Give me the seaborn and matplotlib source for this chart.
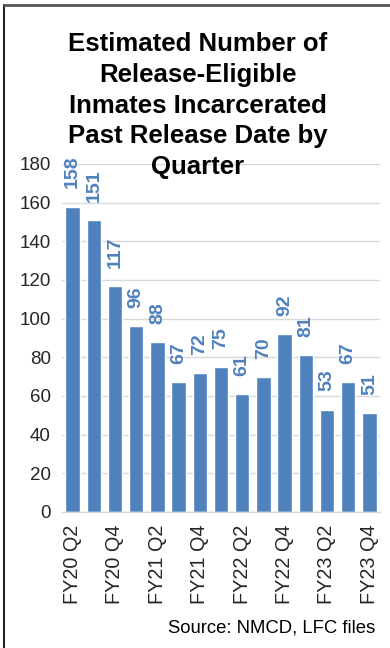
import matplotlib
matplotlib.use("Agg")
import matplotlib.pyplot as plt
import seaborn as sns
import pandas as pd
from matplotlib.lines import Line2D

categories = ["FY20 Q2", "FY20 Q3", "FY20 Q4", "FY21 Q1", "FY21 Q2", "FY21 Q3", "FY21 Q4",
              "FY22 Q1", "FY22 Q2", "FY22 Q3", "FY22 Q4", "FY23 Q1", "FY23 Q2", "FY23 Q3", "FY23 Q4"]
values = [158, 151, 117, 96, 88, 67, 72, 75, 61, 70, 92, 81, 53, 67, 51]
y_ticks = [0, 20, 40, 60, 80, 100, 120, 140, 160, 180]
title_lines = ["Estimated Number of", "Release-Eligible", "Inmates Incarcerated",
               "Past Release Date by", "Quarter"]
source = "Source: NMCD, LFC files"

sns.set_theme(style="white")
plt.rcParams["font.family"] = ["Liberation Sans", "DejaVu Sans"]

BLUE = "#4F81BD"
df = pd.DataFrame({"q": categories, "v": values})

fig = plt.figure(figsize=(3.9, 6.48), dpi=100)
ax = fig.add_axes([62/390, 1-512/648, (380-62)/390, (512-164)/648])
sns.barplot(data=df, x="q", y="v", color=BLUE, width=0.67, saturation=1, ax=ax)

ax.set_ylim(0, 180)
ax.set_xlim(-0.5, len(categories)-0.5)
ax.set_yticks(y_ticks)
ax.set_yticklabels([str(t) for t in y_ticks], fontsize=13.5)
ax.set_xticks(range(0, len(categories), 2))
ax.set_xticklabels(categories[::2], rotation=90, fontsize=14.3)
ax.tick_params(axis="both", length=0, pad=8)
ax.tick_params(axis="x", pad=9)
ax.set_xlabel("")
ax.set_ylabel("")
ax.yaxis.grid(True, color="#d9d9d9", linewidth=1.0)
ax.set_axisbelow(True)
for s in ["top", "right", "left"]:
    ax.spines[s].set_visible(False)
ax.spines["bottom"].set_color("#d9d9d9")
ax.spines["bottom"].set_linewidth(1.0)

for i, v in enumerate(values):
    ax.annotate(str(v), (i, v), xytext=(0, 13), textcoords="offset points",
                rotation=90, ha="center", va="bottom", color=BLUE,
                fontsize=14, fontweight="bold")

for k, line in enumerate(title_lines):
    fig.text(198/390, 1-(51 + 30.8*k)/648, line, ha="center", va="baseline",
             fontsize=18.5, fontweight="bold", color="black")
fig.text(375/390, 1-628/648, source, ha="right", va="center", fontsize=13.3, color="black")

fig.add_artist(Line2D([4/390, 4/390], [0, 1-5/648], transform=fig.transFigure,
                      color="#222222", linewidth=1.5))
fig.add_artist(Line2D([4/390, 1], [1-5/648, 1-5/648], transform=fig.transFigure,
                      color="#555555", linewidth=2))

fig.savefig("out.png", dpi=100)
